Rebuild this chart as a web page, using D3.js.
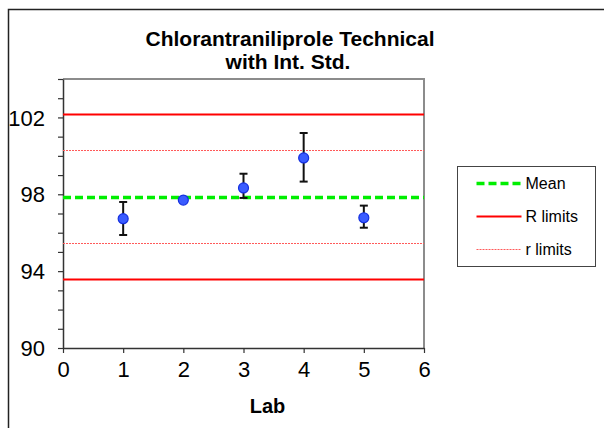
<!DOCTYPE html>
<html>
<head>
<meta charset="utf-8">
<script src="https://cdn.jsdelivr.net/npm/d3@7"></script>
<style>
  body { margin: 0; background: #fff; }
  text { font-family: Arial, "Liberation Sans", sans-serif; fill: #000; }
</style>
</head>
<body>
<div id="chart"></div>
<script>
// values
const labs = [1, 2, 3, 4, 5];
const labMeans = [96.73, 97.70, 98.33, 99.89, 96.78];
const labLow = [95.88, 97.64, 97.81, 98.66, 96.26];
const labHigh = [97.60, 97.76, 99.07, 101.19, 97.41];
const grandMean = 97.88;
const bigRLimits = [93.59, 102.17];
const smallRLimits = [95.45, 100.32];
const yLabelTicks = [90, 94, 98, 102];
const xTicks = [0, 1, 2, 3, 4, 5, 6];
const legendNames = ["Mean", "R limits", "r limits"];

const W = 604, H = 428;
const plot = {left: 63, right: 424, top: 79, bottom: 348};

const svg = d3.select("#chart").append("svg")
  .attr("width", W)
  .attr("height", H);

// outer chart border
svg.append("rect")
  .attr("x", 8.5).attr("y", 9.5)
  .attr("width", 620).attr("height", 440)
  .attr("fill", "none")
  .attr("stroke", "#222")
  .attr("stroke-width", 1.5);

const x = d3.scaleLinear().domain([0, 6]).range([plot.left, plot.right]);
const y = d3.scaleLinear().domain([90, 104]).range([plot.bottom, plot.top]);

// plot frame (grey top/right)
svg.append("path")
  .attr("d", `M${plot.left},${plot.top}H${plot.right}V${plot.bottom}`)
  .attr("fill", "none")
  .attr("stroke", "#8c8c8c")
  .attr("stroke-width", 2);

// axes
const yAxis = d3.axisLeft(y)
  .tickValues(d3.range(90, 105, 1))
  .tickSize(5)
  .tickSizeOuter(0)
  .tickPadding(13)
  .tickFormat(d => yLabelTicks.includes(d) ? d : "");
const gy = svg.append("g")
  .attr("transform", `translate(${plot.left},0)`)
  .call(yAxis);
gy.selectAll("text").style("font-size", "22px").attr("dy", "0.35em");

const xAxis = d3.axisBottom(x)
  .tickValues(xTicks)
  .tickFormat(d3.format("d"))
  .tickSize(5)
  .tickSizeOuter(0)
  .tickPadding(8);
const gx = svg.append("g")
  .attr("transform", `translate(0,${plot.bottom})`)
  .call(xAxis);
gx.selectAll("text").style("font-size", "22px");

[gx, gy].forEach(g => {
  g.select(".domain").attr("stroke", "#333").attr("stroke-width", 1.5);
  g.selectAll(".tick line").attr("stroke", "#333").attr("stroke-width", 1.2);
});

// limit lines
const lineStyles = {
  mean: {stroke: "#00ee00", width: 3.5, dash: "8,4"},
  R: {stroke: "#ff0000", width: 2, dash: null},
  r: {stroke: "#ff5a5a", width: 1, dash: "2,1"}
};
const hLines = [
  {v: smallRLimits[0], s: lineStyles.r},
  {v: smallRLimits[1], s: lineStyles.r},
  {v: bigRLimits[0], s: lineStyles.R},
  {v: bigRLimits[1], s: lineStyles.R},
  {v: grandMean, s: lineStyles.mean}
];
svg.append("g").selectAll("line")
  .data(hLines)
  .enter().append("line")
  .attr("x1", x(0)).attr("x2", x(6))
  .attr("y1", d => Math.round(y(d.v)) + 0.5).attr("y2", d => Math.round(y(d.v)) + 0.5)
  .attr("stroke", d => d.s.stroke)
  .attr("stroke-width", d => d.s.width)
  .attr("stroke-dasharray", d => d.s.dash);

// error bars + points
const pts = labs.map((l, i) => ({lab: l, m: labMeans[i], lo: labLow[i], hi: labHigh[i]}));
const eb = svg.append("g").attr("stroke", "#111").attr("stroke-width", 2);
eb.selectAll(".v").data(pts).enter().append("line")
  .attr("x1", d => x(d.lab)).attr("x2", d => x(d.lab))
  .attr("y1", d => y(d.lo)).attr("y2", d => y(d.hi));
eb.selectAll(".t").data(pts).enter().append("line")
  .attr("x1", d => x(d.lab) - 4).attr("x2", d => x(d.lab) + 4)
  .attr("y1", d => y(d.hi)).attr("y2", d => y(d.hi));
eb.selectAll(".b").data(pts).enter().append("line")
  .attr("x1", d => x(d.lab) - 4).attr("x2", d => x(d.lab) + 4)
  .attr("y1", d => y(d.lo)).attr("y2", d => y(d.lo));

svg.append("g").selectAll("circle")
  .data(pts)
  .enter().append("circle")
  .attr("cx", d => x(d.lab))
  .attr("cy", d => y(d.m))
  .attr("r", 5)
  .attr("fill", "#3a5cff")
  .attr("stroke", "#1530e0")
  .attr("stroke-width", 1.2);

// title
const title = svg.append("text")
  .attr("text-anchor", "middle")
  .style("font-size", "21px")
  .style("font-weight", "bold");
title.append("tspan").attr("x", 290).attr("y", 46).text("Chlorantraniliprole Technical");
title.append("tspan").attr("x", 288).attr("y", 69).text("with Int. Std.");

// x label
svg.append("text")
  .attr("x", x(3.4)).attr("y", 413)
  .attr("text-anchor", "middle")
  .style("font-size", "20px")
  .style("font-weight", "bold")
  .text("Lab");

// legend
const lg = svg.append("g").attr("transform", "translate(457.5,166.5)");
lg.append("rect")
  .attr("width", 138).attr("height", 100)
  .attr("fill", "#fff")
  .attr("stroke", "#444")
  .attr("stroke-width", 1);
const legStyles = [lineStyles.mean, lineStyles.R, lineStyles.r];
const item = lg.selectAll(".item")
  .data(legendNames)
  .enter().append("g")
  .attr("transform", (d, i) => `translate(0,${17 + i * 33})`);
item.append("line")
  .attr("x1", 19).attr("x2", 64)
  .attr("stroke", (d, i) => legStyles[i].stroke)
  .attr("stroke-width", (d, i) => legStyles[i].width)
  .attr("stroke-dasharray", (d, i) => legStyles[i].dash);
item.append("text")
  .attr("x", 68).attr("dy", "0.35em")
  .style("font-size", "16px")
  .text(d => d);
</script>
</body>
</html>
